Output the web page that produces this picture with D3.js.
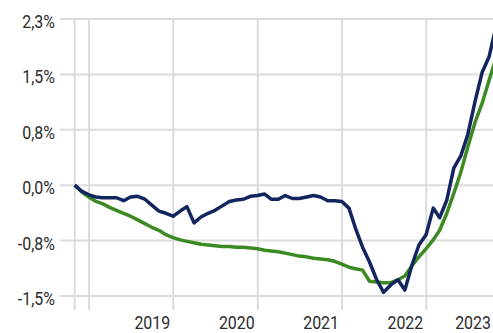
<!DOCTYPE html>
<html>
<head>
<meta charset="utf-8">
<script src="https://cdn.jsdelivr.net/npm/d3@7"></script>
<style>
  html, body { margin: 0; padding: 0; background: #fff; }
  svg { display: block; }
  text { font-family: Roboto, "Noto Sans", sans-serif; fill: #2b2b2b; }
</style>
</head>
<body>
<svg id="chart" width="493" height="333"></svg>
<script>
// Monthly series, month-end observations from Oct 2018 through Oct 2023 (%)
const firstMonth = "2018-10";
const monthCount = 61;

const seriesBlue = [
  0.00, -0.08, -0.13, -0.16, -0.17, -0.17, -0.17, -0.21, -0.16, -0.15,
  -0.19, -0.27, -0.35, -0.38, -0.42, -0.35, -0.29, -0.51, -0.43, -0.38,
  -0.34, -0.28, -0.22, -0.20, -0.19, -0.15, -0.14, -0.12, -0.19, -0.19,
  -0.14, -0.18, -0.18, -0.16, -0.14, -0.16, -0.21, -0.21, -0.22, -0.31,
  -0.58, -0.84, -1.04, -1.28, -1.45, -1.35, -1.28, -1.42, -1.08, -0.81,
  -0.67, -0.31, -0.44, -0.20, 0.23, 0.40, 0.69, 1.13, 1.53, 1.74,
  2.16
];

const seriesGreen = [
  0.00, -0.09, -0.16, -0.22, -0.25, -0.30, -0.34, -0.38, -0.42, -0.47,
  -0.52, -0.57, -0.61, -0.67, -0.71, -0.74, -0.76, -0.78, -0.80, -0.81,
  -0.82, -0.83, -0.83, -0.84, -0.84, -0.85, -0.86, -0.88, -0.89, -0.90,
  -0.92, -0.94, -0.96, -0.97, -0.99, -1.00, -1.01, -1.03, -1.07, -1.11,
  -1.13, -1.15, -1.30, -1.31, -1.32, -1.32, -1.28, -1.23, -1.09, -0.97,
  -0.86, -0.74, -0.61, -0.38, -0.11, 0.18, 0.52, 0.85, 1.11, 1.42,
  1.73
];

const yTickValues = [-1.5, -0.75, 0, 0.75, 1.5, 2.25];
const yTickLabels = ["-1,5%", "-0,8%", "0,0%", "0,8%", "1,5%", "2,3%"];
const yearLabels = ["2019", "2020", "2021", "2022", "2023"];

const W = 493, H = 333;
const svg = d3.select("#chart");

// month-end dates
const start = d3.utcParse("%Y-%m")(firstMonth);
const dates = d3.range(monthCount).map(i =>
  d3.utcDay.offset(d3.utcMonth.offset(start, i + 1), -1));

const x = d3.scaleUtc()
  .domain([new Date(Date.UTC(2019, 0, 1)), new Date(Date.UTC(2023, 0, 1))])
  .range([89, 426.3]);

const y = d3.scaleLinear()
  .domain([-1.5, 2.25])
  .range([296, 19]);

const gridColor = "#dcdcdc";
const gridTop = y(2.25), gridBottom = 310;

// horizontal grid
svg.append("g").selectAll("line")
  .data(yTickValues).join("line")
  .attr("x1", 60).attr("x2", W)
  .attr("y1", d => y(d)).attr("y2", d => y(d))
  .attr("stroke", gridColor).attr("stroke-width", 2);

// vertical grid: series start and each year boundary
const yearStarts = yearLabels.map(s => new Date(Date.UTC(+s, 0, 1)));
const vLines = [dates[0]].concat(yearStarts);
svg.append("g").selectAll("line")
  .data(vLines).join("line")
  .attr("x1", d => x(d)).attr("x2", d => x(d))
  .attr("y1", gridTop).attr("y2", gridBottom)
  .attr("stroke", gridColor).attr("stroke-width", 2);

// y labels
svg.append("g").selectAll("text")
  .data(yTickValues).join("text")
  .attr("transform", d => `translate(55,${y(d) + 9}) scale(0.84,1)`)
  .attr("text-anchor", "end")
  .attr("font-size", 19)
  .text((d, i) => yTickLabels[i]);

// year labels, right-aligned at end of each year
svg.append("g").selectAll("text")
  .data(yearLabels).join("text")
  .attr("transform", s => {
    const endX = Math.min(x(new Date(Date.UTC(+s + 1, 0, 1))) - 3, W - 2);
    return `translate(${endX},329) scale(0.84,1)`;
  })
  .attr("text-anchor", "end")
  .attr("font-size", 19)
  .text(s => s);

const line = d3.line()
  .x((d, i) => x(dates[i]))
  .y(d => y(d));

svg.append("path")
  .datum(seriesGreen)
  .attr("fill", "none")
  .attr("stroke", "#3d8a22")
  .attr("stroke-width", 3.5)
  .attr("stroke-linejoin", "round")
  .attr("d", line);

svg.append("path")
  .datum(seriesBlue)
  .attr("fill", "none")
  .attr("stroke", "#13255f")
  .attr("stroke-width", 3.5)
  .attr("stroke-linejoin", "round")
  .attr("d", line);
</script>
</body>
</html>
